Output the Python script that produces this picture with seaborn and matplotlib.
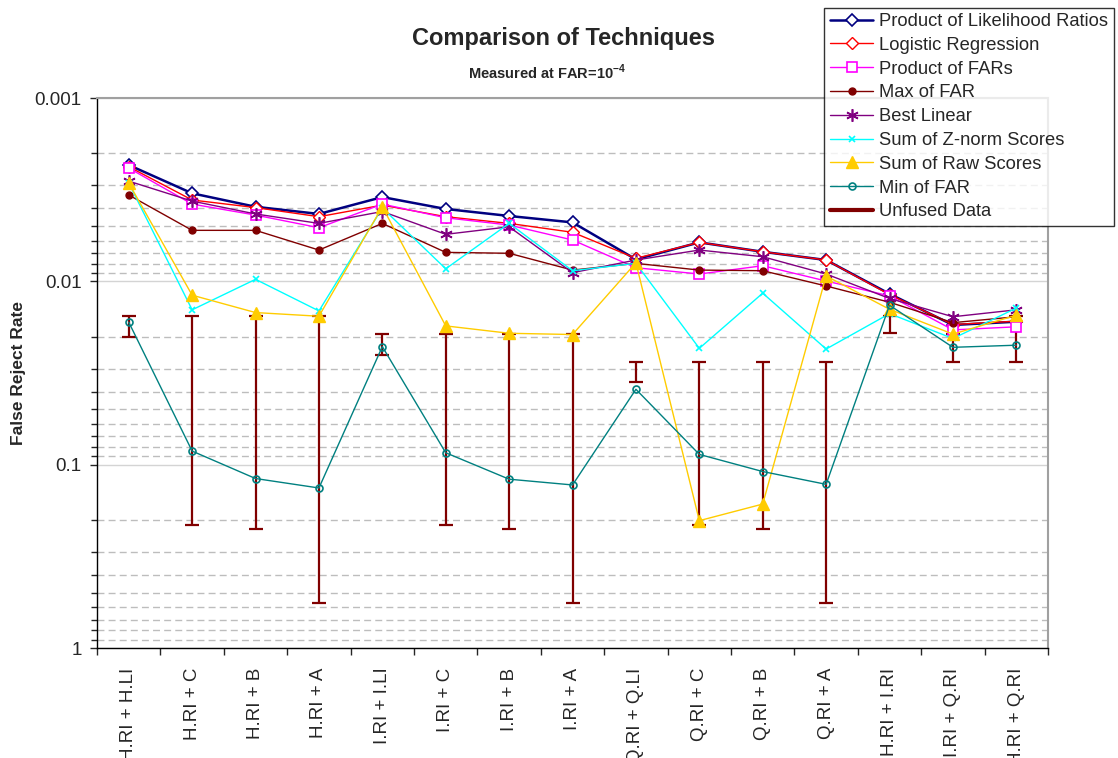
import matplotlib
matplotlib.use("Agg")
import matplotlib.pyplot as plt
from matplotlib.lines import Line2D
from matplotlib.ticker import FixedLocator, FuncFormatter, NullFormatter, LogLocator
import numpy as np
import pandas as pd
import seaborn as sns

# categories on the x axis
categories = ['H.RI + H.LI', 'H.RI + C', 'H.RI + B', 'H.RI + A', 'I.RI + I.LI',
              'I.RI + C', 'I.RI + B', 'I.RI + A', 'Q.RI + Q.LI', 'Q.RI + C',
              'Q.RI + B', 'Q.RI + A', 'H.RI + I.RI', 'I.RI + Q.RI', 'H.RI + Q.RI']

# false reject rates
prod_lr = [0.00232, 0.00331, 0.00392, 0.00429, 0.00347, 0.00403, 0.0044, 0.00477,
           0.00759, 0.00613, 0.0069, 0.00765, 0.0117, 0.0173, 0.0166]
logistic = [0.00237, 0.0036, 0.00396, 0.00444, 0.00384, 0.00444, 0.00483, 0.0054,
            0.00749, 0.00613, 0.0069, 0.00765, 0.0118, 0.0172, 0.0165]
prod_far = [0.00241, 0.00379, 0.00435, 0.0051, 0.00379, 0.0045, 0.00493, 0.00595,
            0.00843, 0.00912, 0.00822, 0.00996, 0.012, 0.0184, 0.0177]
max_far = [0.00338, 0.00527, 0.00527, 0.00675, 0.00483, 0.00695, 0.00703, 0.00868,
           0.00798, 0.00868, 0.00875, 0.0106, 0.013, 0.0168, 0.0156]
best_linear = [0.00284, 0.00365, 0.00429, 0.00483, 0.00416, 0.00554, 0.00504, 0.00897,
               0.00765, 0.00675, 0.00734, 0.00912, 0.0124, 0.0156, 0.0143]
sum_znorm = [0.00291, 0.0143, 0.00975, 0.0145, 0.00398, 0.00854, 0.00483, 0.00875,
             0.00798, 0.0232, 0.0116, 0.0234, 0.015, 0.0205, 0.014]
sum_raw = [0.00291, 0.0119, 0.0148, 0.0155, 0.00392, 0.0175, 0.0192, 0.0195,
           0.00792, 0.202, 0.164, 0.00935, 0.0142, 0.0194, 0.0153]
min_far = [0.0167, 0.0843, 0.119, 0.134, 0.0227, 0.0861, 0.120, 0.129,
           0.0388, 0.0879, 0.109, 0.128, 0.0135, 0.0229, 0.0223]

# unfused data range (best and worst single modality)
unfused_low = [0.0155, 0.0155, 0.0155, 0.0155, 0.0194, 0.0194, 0.0194, 0.0194,
               0.0277, 0.0277, 0.0277, 0.0277, 0.0155, 0.0194, 0.0155]
unfused_high = [0.0201, 0.212, 0.225, 0.569, 0.0252, 0.212, 0.225, 0.569,
                0.0353, 0.212, 0.225, 0.569, 0.0192, 0.0277, 0.0277]

series = [
    ('Product of Likelihood Ratios', prod_lr, dict(color='#000080', marker='D', ms=6, mfc='white', mew=1.2, lw=1.8)),
    ('Logistic Regression', logistic, dict(color='#FF0000', marker='D', ms=6, mfc='white', mew=1.0, lw=1.0)),
    ('Product of FARs', prod_far, dict(color='#FF00FF', marker='s', ms=7.5, mfc='white', mew=1.2, lw=1.0)),
    ('Max of FAR', max_far, dict(color='#800000', marker='o', ms=5, mfc='#800000', mew=1.0, lw=1.0)),
    ('Best Linear', best_linear, dict(color='#800080', marker=(6, 2, 0), ms=9, mfc='#800080', mew=1.2, lw=1.0)),
    ('Sum of Z-norm Scores', sum_znorm, dict(color='#00FFFF', marker='x', ms=5, mfc='#00FFFF', mew=1.2, lw=1.0)),
    ('Sum of Raw Scores', sum_raw, dict(color='#FFCC00', marker='^', ms=9, mfc='#FFCC00', mew=1.0, lw=1.0)),
    ('Min of FAR', min_far, dict(color='#008080', marker='o', ms=5, mfc='none', mew=1.2, lw=1.0)),
]

sns.set_style('white')
plt.rcParams['font.family'] = ['Liberation Sans', 'DejaVu Sans']
plt.rcParams['mathtext.fontset'] = 'custom'
plt.rcParams['mathtext.rm'] = 'Liberation Sans'
plt.rcParams['mathtext.bf'] = 'Liberation Sans:bold'

fig = plt.figure(figsize=(11.18, 7.58), dpi=100)
ax = fig.add_axes([0.0868, 0.1451, 0.8506, 0.7256])

xpos = np.arange(len(categories))

# unfused data error bars
ax.errorbar(xpos, unfused_low,
            yerr=[np.zeros(len(xpos)), np.array(unfused_high) - np.array(unfused_low)],
            fmt='none', ecolor='#800000', elinewidth=1.6, capsize=5, capthick=1.6, zorder=2)

for name, vals, st in series:
    df = pd.DataFrame({'x': xpos, 'y': vals})
    sns.lineplot(data=df, x='x', y='y', ax=ax, sort=False, color=st['color'],
                 marker=st['marker'], markersize=st['ms'], markerfacecolor=st['mfc'],
                 markeredgecolor=st['color'], markeredgewidth=st['mew'],
                 linewidth=st['lw'], label=name, legend=False, zorder=3)

ax.set_yscale('log')
ax.set_ylim(1, 0.001)
ax.set_xlim(-0.5, len(categories) - 0.5)

# y ticks
ax.yaxis.set_major_locator(FixedLocator([0.001, 0.01, 0.1, 1]))
ax.yaxis.set_major_formatter(FuncFormatter(lambda v, p: {0.001: '0.001', 0.01: '0.01', 0.1: '0.1', 1: '1'}.get(round(v, 3), '')))
ax.yaxis.set_minor_locator(LogLocator(base=10, subs=np.arange(2, 10)))
ax.yaxis.set_minor_formatter(NullFormatter())
ax.tick_params(axis='y', which='major', direction='out', length=5, width=1, labelsize=13.5, pad=6, left=True)
ax.tick_params(axis='y', which='minor', direction='out', length=4, width=1, left=True)

# x ticks: labels at centres, tick marks at boundaries
ax.set_xticks(xpos)
ax.set_xticklabels(categories, rotation=90, fontsize=13.5, va='top')
ax.set_xticks(np.arange(len(categories) + 1) - 0.5, minor=True)
ax.tick_params(axis='x', which='major', length=0, pad=14)
ax.tick_params(axis='x', which='minor', direction='out', length=5, width=1, bottom=True)
ax.set_xlabel('')

# grid
ax.grid(False)
ax.yaxis.grid(True, which='major', color='#D4D4D4', lw=1.0, ls='-')
ax.yaxis.grid(True, which='minor', color='#BDBDBD', lw=1.0, ls=(0, (5, 3)))
ax.set_axisbelow(True)

for s in ['left', 'bottom']:
    ax.spines[s].set_color('black')
    ax.spines[s].set_linewidth(1.0)
for s in ['top', 'right']:
    ax.spines[s].set_color('#A0A0A0')
    ax.spines[s].set_linewidth(1.5)

ax.set_ylabel('False Reject Rate', fontsize=12.5, fontweight='bold')
ax.yaxis.set_label_coords(-0.0747, 0.5)

fig.text(0.5036, 0.949, 'Comparison of Techniques', ha='center', va='center',
         fontsize=17, fontweight='bold')
fig.text(0.489, 0.905, r'Measured at FAR=10$^{\mathbf{-4}}$', ha='center', va='center',
         fontsize=10.5, fontweight='bold')

handles, labels = ax.get_legend_handles_labels()
handles.append(Line2D([], [], color='#800000', lw=3))
labels.append('Unfused Data')
leg = fig.legend(handles, labels, loc='upper right', bbox_to_anchor=(0.9964, 0.99),
                 fontsize=13.2, frameon=True, fancybox=False, edgecolor='black',
                 handlelength=2.35, handletextpad=0.35, borderpad=0.3, labelspacing=0.37,
                 borderaxespad=0)
leg.get_frame().set_linewidth(1.0)

fig.savefig('out.png', dpi=100, facecolor='white')
